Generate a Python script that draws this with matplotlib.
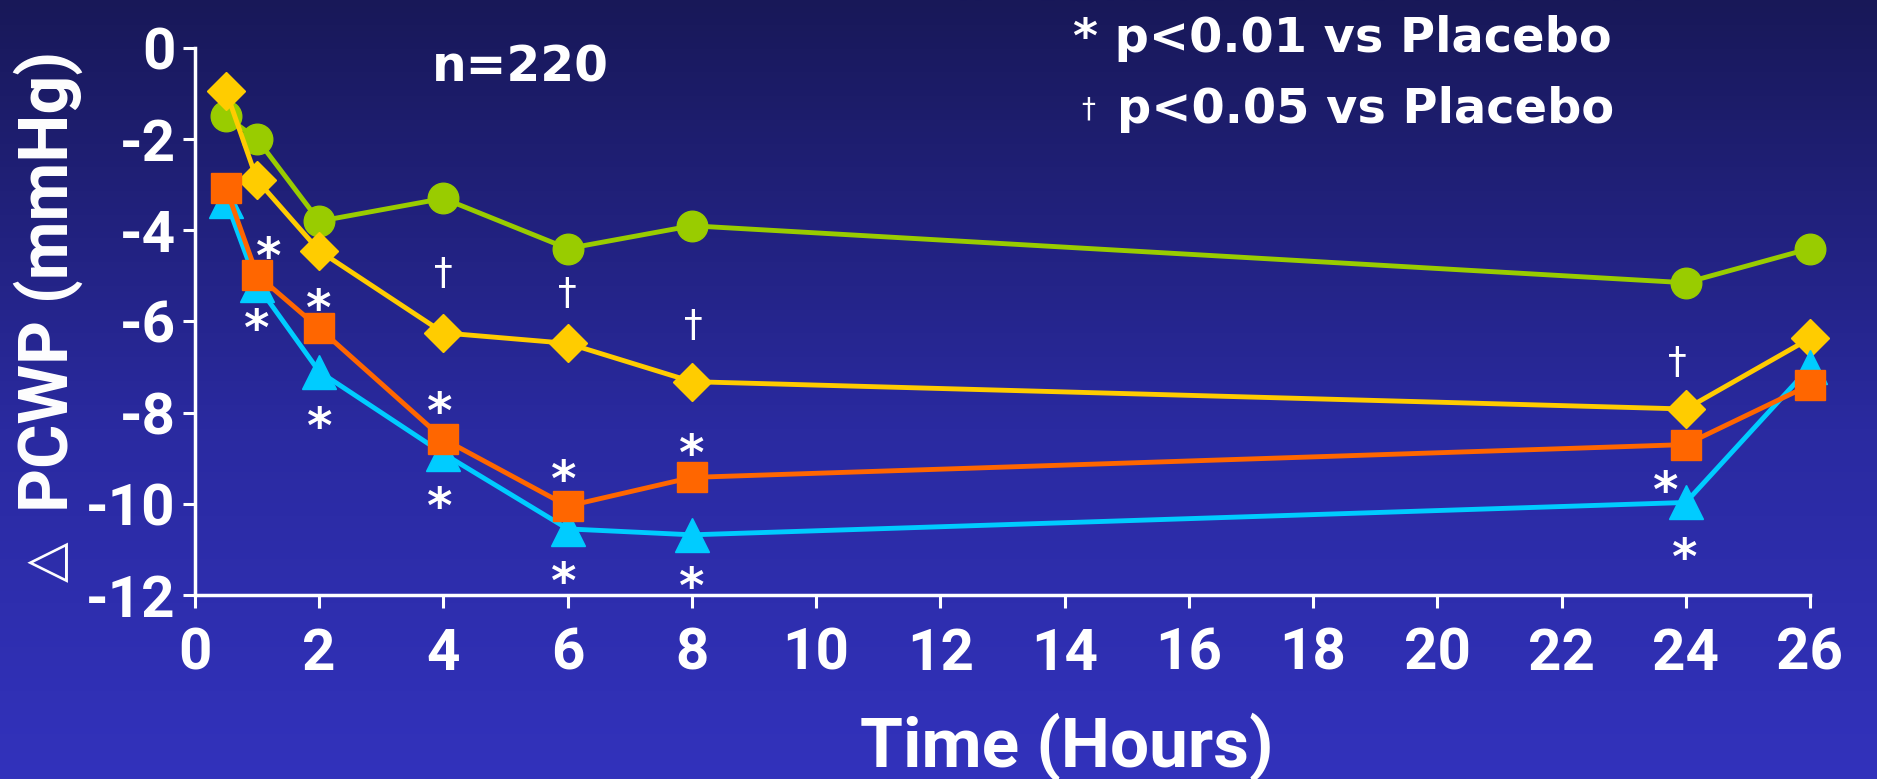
import numpy as np
import matplotlib
matplotlib.use("Agg")
import matplotlib.pyplot as plt

plt.rcParams["axes.unicode_minus"] = False

# Time points (hours) and mean change in PCWP (mmHg) per arm
hours = [0.5, 1, 2, 4, 6, 8, 24, 26]
placebo = [-1.5, -2.0, -3.8, -3.3, -4.4, -3.9, -5.15, -4.4]
dose_low = [-0.95, -2.9, -4.45, -6.25, -6.48, -7.32, -7.92, -6.37]
dose_mid = [-3.35, -5.2, -7.1, -8.9, -10.55, -10.68, -9.97, -7.0]
dose_high = [-3.08, -4.98, -6.15, -8.58, -10.05, -9.42, -8.7, -7.39]

# significance marks: (hour, value)
star_x = [1.18, 0.99, 1.99, 2.0, 3.94, 3.94, 5.94, 5.94, 7.99, 7.99, 23.67, 23.98]
star_y = [-4.36, -5.93, -5.49, -8.09, -7.76, -9.84, -9.26, -11.49, -8.67, -11.6, -9.5, -10.97]
dagger_x = [3.99, 6.0, 8.03, 23.87]
dagger_y = [-4.94, -5.38, -6.08, -6.89]

x_ticks = list(range(0, 27, 2))
y_ticks = [0, -2, -4, -6, -8, -10, -12]
y_ticklabels = ["0", "-2", "-4", "-6", "-8", "-10", "-12"]

fig = plt.figure(figsize=(18.77, 7.79), dpi=100)

# background gradient
bg = fig.add_axes([0, 0, 1, 1], zorder=-10)
t = np.linspace(0, 1, 400)
r = np.interp(t, [0, 0.55, 1], [24, 42, 50])
g = np.interp(t, [0, 0.55, 1], [24, 42, 50])
b = np.interp(t, [0, 0.55, 1], [88, 160, 188])
grad = np.stack([r, g, b], axis=1)[:, None, :] / 255.0
bg.imshow(grad, aspect="auto", extent=[0, 1, 0, 1])
bg.axis("off")

ax = fig.add_axes([0.1039, 0.2362, 0.8604, 0.7022])
ax.patch.set_alpha(0)

ax.plot(hours, placebo, color="#99cc00", lw=3.5, marker="o", ms=22,
        mec="#99cc00", clip_on=False, zorder=3)
ax.plot(hours, dose_low, color="#ffcc00", lw=3.5, marker="D", ms=19,
        mec="#ffcc00", clip_on=False, zorder=4)
ax.plot(hours, dose_mid, color="#00ccff", lw=3.5, marker="^", ms=25,
        mec="#00ccff", clip_on=False, zorder=5)
ax.plot(hours, dose_high, color="#ff6600", lw=3.5, marker="s", ms=21,
        mec="#ff6600", clip_on=False, zorder=6)

for x, y in zip(star_x, star_y):
    ax.annotate("*", (x, y), xytext=(0, -19), textcoords="offset points",
                ha="center", va="baseline", color="white", fontsize=35,
                fontweight="bold", family="DejaVu Sans", zorder=8)
for x, y in zip(dagger_x, dagger_y):
    ax.annotate("†", (x, y), xytext=(0, -8), textcoords="offset points",
                ha="center", va="baseline", color="white", fontsize=27,
                family="DejaVu Sans", zorder=8)

ax.set_xlim(0, 26)
ax.set_ylim(-12, 0)
ax.set_xticks(x_ticks)
ax.set_yticks(y_ticks)
ax.set_yticklabels(y_ticklabels)

for side in ["top", "right"]:
    ax.spines[side].set_visible(False)
for side in ["left", "bottom"]:
    ax.spines[side].set_color("white")
    ax.spines[side].set_linewidth(2.5)

ax.tick_params(colors="white", length=9, width=2.2, direction="out")
ax.tick_params(axis="x", pad=14)
ax.tick_params(axis="y", pad=5)
for lab in ax.get_xticklabels() + ax.get_yticklabels():
    lab.set_family(["Roboto", "DejaVu Sans"])
    lab.set_fontweight("bold")
    lab.set_fontsize(42)
    lab.set_color("white")

fig.text(1067 / 1877, 12 / 779, "Time (Hours)", ha="center", va="baseline",
         color="white", fontsize=50, fontweight="bold",
         family=["Roboto", "DejaVu Sans"])

# y label: thin delta plus bold text
fig.text(68 / 1877, 1 - 281 / 779, "PCWP (mmHg)", rotation=90,
         rotation_mode="anchor", ha="center", va="baseline", color="white",
         fontsize=49, fontweight="bold", family=["Roboto", "DejaVu Sans"])
fig.text(47 / 1877, 1 - 562 / 779, "△", rotation=90, ha="center", va="center",
         color="white", fontsize=38, family="DejaVu Sans")

fig.text(520 / 1877, 1 - 82 / 779, "n=220", ha="center", va="baseline",
         color="white", fontsize=35, fontweight="bold", family="DejaVu Sans")

fig.text(1073 / 1877, 1 - 52 / 779, "* p<0.01 vs Placebo", ha="left",
         va="baseline", color="white", fontsize=34.5, fontweight="bold",
         family="DejaVu Sans")
fig.text(1081 / 1877, 1 - 118 / 779, "†", ha="left", va="baseline",
         color="white", fontsize=20, family="DejaVu Sans")
fig.text(1117 / 1877, 1 - 123 / 779, "p<0.05 vs Placebo", ha="left",
         va="baseline", color="white", fontsize=34.5, fontweight="bold",
         family="DejaVu Sans")

fig.savefig("out.png", dpi=100)
